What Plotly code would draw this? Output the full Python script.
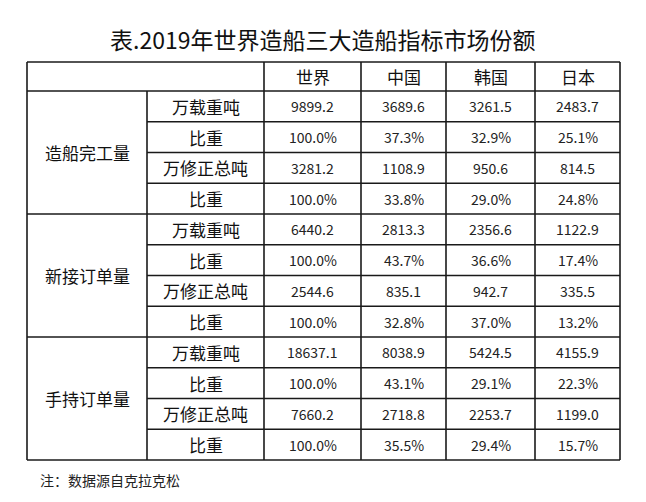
import plotly.graph_objects as go

title = "表.2019年世界造船三大造船指标市场份额"
countries = ["世界", "中国", "韩国", "日本"]
groups = ["造船完工量", "新接订单量", "手持订单量"]
metrics = ["万载重吨", "比重", "万修正总吨", "比重"]
values = [
    ["9899.2", "3689.6", "3261.5", "2483.7"],
    ["100.0%", "37.3%", "32.9%", "25.1%"],
    ["3281.2", "1108.9", "950.6", "814.5"],
    ["100.0%", "33.8%", "29.0%", "24.8%"],
    ["6440.2", "2813.3", "2356.6", "1122.9"],
    ["100.0%", "43.7%", "36.6%", "17.4%"],
    ["2544.6", "835.1", "942.7", "335.5"],
    ["100.0%", "32.8%", "37.0%", "13.2%"],
    ["18637.1", "8038.9", "5424.5", "4155.9"],
    ["100.0%", "43.1%", "29.1%", "22.3%"],
    ["7660.2", "2718.8", "2253.7", "1199.0"],
    ["100.0%", "35.5%", "29.4%", "15.7%"],
]
note = "注：数据源自克拉克松"

F = "Noto Sans CJK SC"
xs = [19, 139, 256, 353, 438, 527, 612]
top, hdr_bot, bot = 54, 83, 452
rh = (bot - hdr_bot) / 12

fig = go.Figure()
shapes, ann = [], []
def line(x0, y0, x1, y1):
    shapes.append(dict(type="line", x0=x0, y0=y0, x1=x1, y1=y1, xref="x", yref="y",
                       line=dict(color="#1a1a1a", width=1.6)))
line(xs[0], top, xs[-1], top); line(xs[0], hdr_bot, xs[-1], hdr_bot); line(xs[0], bot, xs[-1], bot)
line(xs[0], top, xs[0], bot); line(xs[-1], top, xs[-1], bot)
for x in xs[2:-1]:
    line(x, top, x, bot)
line(xs[1], hdr_bot, xs[1], bot)
for i in range(1, 12):
    y = hdr_bot + i * rh
    x0 = xs[0] if i % 4 == 0 else xs[1]
    line(x0, y, xs[-1], y)

def txt(x, y, s, size, color="#111"):
    ann.append(dict(x=x, y=y, xref="x", yref="y", text=s, showarrow=False,
                    font=dict(family=F, size=size, color=color)))

txt(314, 31, title, 23)
for j, c in enumerate(countries):
    txt((xs[j + 2] + xs[j + 3]) / 2, (top + hdr_bot) / 2, c, 17)
for g, name in enumerate(groups):
    txt((xs[0] + xs[1]) / 2, hdr_bot + (g * 4 + 2) * rh, name, 17)
for i in range(12):
    yc = hdr_bot + (i + 0.5) * rh
    txt((xs[1] + xs[2]) / 2, yc, metrics[i % 4], 17)
    for j in range(4):
        txt((xs[j + 2] + xs[j + 3]) / 2, yc, values[i][j], 14, "#222")
ann.append(dict(x=30, y=472, xref="x", yref="y", text=note, showarrow=False, xanchor="left",
                font=dict(family=F, size=14, color="#222")))

fig.update_layout(width=646, height=502, margin=dict(l=0, r=0, t=0, b=0),
                  plot_bgcolor="white", paper_bgcolor="white", shapes=shapes, annotations=ann,
                  xaxis=dict(range=[0, 646], visible=False, fixedrange=True),
                  yaxis=dict(range=[502, 0], visible=False, fixedrange=True),
                  showlegend=False)
fig.write_html("out.html")
